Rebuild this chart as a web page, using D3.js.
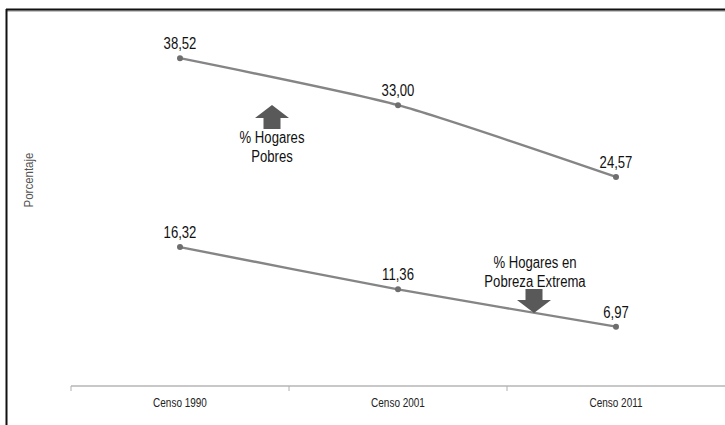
<!DOCTYPE html>
<html>
<head>
<meta charset="utf-8">
<script src="https://cdn.jsdelivr.net/npm/d3@7"></script>
<style>
  html, body { margin: 0; padding: 0; background: #fff; }
  svg { display: block; font-family: "Liberation Sans", Arial, sans-serif; }
</style>
</head>
<body>
<svg id="chart" width="725" height="425"></svg>
<script>
const categories = ["Censo 1990", "Censo 2001", "Censo 2011"];
const pobres = [38.52, 33.00, 24.57];
const extrema = [16.32, 11.36, 6.97];
const pobresLabels = ["38,52", "33,00", "24,57"];
const extremaLabels = ["16,32", "11,36", "6,97"];
const yAxisTitle = "Porcentaje";
const annotPobres = ["% Hogares", "Pobres"];
const annotExtrema = ["% Hogares en", "Pobreza Extrema"];

const svg = d3.select("#chart");
const W = 725, H = 425;

// frame
svg.append("rect").attr("x", 0).attr("y", 0).attr("width", W).attr("height", H).attr("fill", "#fff");
svg.append("line").attr("x1", 6).attr("x2", W).attr("y1", 11).attr("y2", 11).attr("stroke", "#888").attr("stroke-width", 1);
svg.append("line").attr("x1", 6).attr("x2", W).attr("y1", 9.5).attr("y2", 9.5).attr("stroke", "#111").attr("stroke-width", 2);
svg.append("line").attr("x1", 6.5).attr("x2", 6.5).attr("y1", 9).attr("y2", H).attr("stroke", "#111").attr("stroke-width", 2);

const x = d3.scaleBand().domain(categories).range([71, 725]).padding(0);
const cx = d => x(d) + x.bandwidth() / 2;
const y = d3.scaleLinear().domain([0, 45]).range([386, 386 - 45 * 8.51]);

// narrow text helper
function ntext(parent, tx, ty, str, size, sx, fill) {
  return parent.append("g").attr("transform", `translate(${tx},${ty})`)
    .append("text").attr("text-anchor", "middle").attr("transform", `scale(${sx},1)`)
    .attr("font-size", size).attr("fill", fill).text(str);
}

// x axis
const axisG = svg.append("g").attr("transform", "translate(0,386)");
axisG.append("line").attr("x1", 71).attr("x2", 725).attr("y1", 0).attr("y2", 0)
  .attr("stroke", "#c8c8c8").attr("stroke-width", 2);
const tickPos = categories.map(c => x(c));
axisG.selectAll("line.tk").data(tickPos).enter().append("line").attr("class", "tk")
  .attr("x1", d => d).attr("x2", d => d).attr("y1", 0).attr("y2", 5)
  .attr("stroke", "#b0b0b0").attr("stroke-width", 1);
categories.forEach(c => ntext(axisG, cx(c), 21, c, 13.5, 0.74, "#222"));

// y title
const yt = svg.append("g").attr("transform", "translate(33,180) rotate(-90)");
ntext(yt, 0, 0, yAxisTitle, 13.5, 0.85, "#555");

const line = d3.line().x((d, i) => cx(categories[i])).y(d => y(d)).curve(d3.curveCardinal.tension(0.4));

function drawSeries(vals, labels) {
  svg.append("path").datum(vals).attr("d", line).attr("fill", "none")
    .attr("stroke", "#858585").attr("stroke-width", 2.4);
  svg.selectAll(null).data(vals).enter().append("circle")
    .attr("cx", (d, i) => cx(categories[i])).attr("cy", d => y(d)).attr("r", 3)
    .attr("fill", "#6e6e6e");
  vals.forEach((v, i) => ntext(svg, cx(categories[i]), y(v) - 9, labels[i], 16, 0.82, "#111"));
}
drawSeries(pobres, pobresLabels);
drawSeries(extrema, extremaLabels);

// arrows
function arrow(xc, tipY, dir) {
  // dir: -1 up, +1 down
  const headH = 13, headW = 17, shaftW = 8.5, shaftL = 11;
  const b = tipY - dir * headH, e = b - dir * shaftL;
  const pts = [[xc, tipY], [xc - headW, b], [xc - shaftW, b], [xc - shaftW, e], [xc + shaftW, e], [xc + shaftW, b], [xc + headW, b]];
  svg.append("path").attr("d", "M" + pts.map(p => p.join(",")).join("L") + "Z").attr("fill", "#595959");
}
arrow(272, 105, -1);
arrow(534, 313, 1);

function annot(xc, y0, lines) {
  lines.forEach((l, i) => ntext(svg, xc, y0 + i * 19, l, 16, 0.82, "#111"));
}
annot(272, 143, annotPobres);
annot(535, 268, annotExtrema);
</script>
</body>
</html>
